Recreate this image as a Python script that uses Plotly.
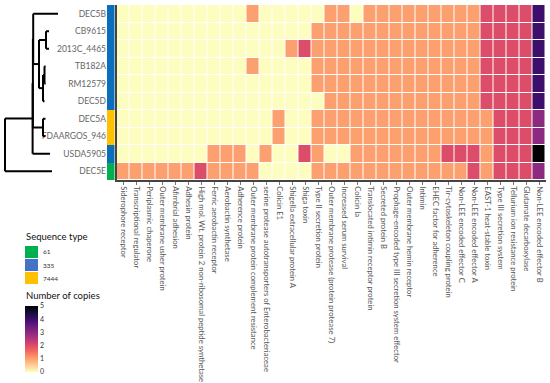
import plotly.graph_objects as go

# ---------------- data ----------------
strains = ["DEC5B", "CB9615", "2013C_4465", "TB182A", "RM12579", "DEC5D",
           "DEC5A", "FDAARGOS_946", "USDA5905", "DEC5E"]

genes = [
    "Siderophore receptor", "Transcriptional regulator", "Periplasmic chaperone",
    "Outer membrane usher protein", "Afimbrial adhesion", "Adhesin protein",
    "High mol. Wt. protein 2 non-ribosomal peptide synthetase",
    "Ferric aerobactin receptor", "Aerobactin synthetase", "Adherence protein",
    "Outer membrane protein complement resistance",
    "serine protease autotransporters of Enterobacteriaceae", "Colicin E1",
    "Shigella extracellular protein A", "Shiga toxin", "Type II secretion protein",
    "Outer membrane protease (protein protease 7)", "Increased serum survival",
    "Colicin Ia", "Translocated intimin receptor protein", "Secreted protein B",
    "Prophage-encoded type III secretion system effector",
    "Outer membrane hemin receptor", "Intimin", "EHEC factor for adherence",
    "Tir-cytoskeleton coupling protein", "Non-LEE encoded effector C",
    "Non-LEE encoded effector A", "EAST-1 heat-stable toxin",
    "Type III secretion system", "Tellurium ion resistance protein",
    "Glutamate decarboxylase", "Non-LEE encoded effector B",
]

copies = [
    [0,0,0,0,0,0,0,0,0,0,1,0,0,0,0,0,1,1,0,1,1,1,1,1,1,1,1,1,2,2,2,2,4],
    [0,0,0,0,0,0,0,0,0,0,0,0,0,0,0,1,1,1,1,1,1,1,1,1,1,1,1,1,2,2,2,2,4],
    [0,0,0,0,0,0,0,0,0,0,0,0,0,1,2,1,1,1,1,1,1,1,1,1,1,1,1,1,2,2,2,2,4],
    [0,0,0,0,0,0,0,0,0,0,1,0,0,0,0,1,1,1,1,1,1,1,1,1,1,1,1,1,2,2,2,2,4],
    [0,0,0,0,0,0,0,0,0,0,0,0,0,0,0,1,1,1,1,1,1,1,1,1,1,1,1,1,2,2,2,2,4],
    [0,0,0,0,0,0,0,0,0,0,0,0,0,0,0,0,1,1,1,1,1,1,1,1,1,1,1,1,2,2,2,2,4],
    [0,0,0,0,0,0,0,0,0,0,0,0,1,0,0,1,1,1,1,1,1,1,1,1,1,1,1,1,1,2,2,2,3],
    [0,0,0,0,0,0,0,0,0,0,0,0,1,0,0,1,1,1,1,1,1,1,1,1,1,1,1,1,1,2,2,2,3],
    [0,0,0,0,0,0,0,1,1,1,0,1,0,0,2,1,0,0,1,1,1,1,1,1,1,2,2,2,1,2,2,2,5],
    [1,1,1,1,1,1,2,1,1,1,1,0,0,0,0,1,1,1,1,1,1,1,1,1,1,1,1,2,1,2,2,2,3],
]

strain_seq_type = ["335", "335", "335", "335", "335", "335", "7444", "7444", "335", "61"]
seq_types = ["61", "335", "7444"]
seq_bar_colors = ["#00b050", "#0a6ebd", "#ffc000"]
seq_legend_colors = ["#00b050", "#4472c4", "#ffc000"]

copy_ticks = [0, 1, 2, 3, 4, 5]

# dendrogram: (name, depth, children)
tree = ("root", 0.0, [
    ("n3", 27.6, [
        ("n2", 27.9, [
            ("n1", 28.2, [
                ("DEC5B", 53.0, []),
                ("B", 34.0, [
                    ("D", 41.0, [("CB9615", 44.0, []), ("2013C_4465", 44.0, [])]),
                    ("E", 38.0, [
                        ("I", 39.5, [("TB182A", 40.5, []), ("RM12579", 40.5, [])]),
                        ("DEC5D", 39.5, []),
                    ]),
                ]),
            ]),
            ("C", 38.0, [("DEC5A", 40.5, []), ("FDAARGOS_946", 40.5, [])]),
        ]),
        ("USDA5905", 45.0, []),
    ]),
    ("DEC5E", 47.0, []),
])

# ---------------- build ----------------
W, H = 550, 383
FONT = "Lato"


def px_x(p):
    return p / W


def px_y(p):
    return 1 - p / H


dx, dy = [], []


def walk(node):
    name, depth, children = node
    if not children:
        return strains.index(name)
    ys = []
    for ch in children:
        cy = walk(ch)
        ys.append(cy)
        dx.extend([depth, ch[1], None])
        dy.extend([cy, cy, None])
    dx.extend([depth, depth, None])
    dy.extend([min(ys), max(ys), None])
    return sum(ys) / len(ys)


walk(tree)

rows = list(range(len(strains)))
cols = list(range(len(genes)))
seq_idx = [[seq_types.index(s)] for s in strain_seq_type]

fig = go.Figure()

fig.add_trace(go.Heatmap(
    z=copies, x=cols, y=rows, xaxis="x", yaxis="y",
    colorscale="Magma_r", zmin=0, zmax=5, xgap=1, ygap=1,
    colorbar=dict(
        x=px_x(25), xanchor="left", xref="paper",
        y=px_y(306), yanchor="top", yref="paper",
        len=66, lenmode="pixels", thickness=13, ypad=0, xpad=0,
        tickvals=copy_ticks, ticks="", outlinewidth=0,
        tickfont=dict(size=7, color="#333", family=FONT),
    ),
    hovertemplate="%{y}<br>%{x}: %{z}<extra></extra>",
))

fig.add_trace(go.Heatmap(
    z=seq_idx, x=[0], y=rows, xaxis="x2", yaxis="y2",
    colorscale=[[0, seq_bar_colors[0]], [0.5, seq_bar_colors[1]], [1, seq_bar_colors[2]]],
    zmin=0, zmax=2, showscale=False, hoverinfo="skip",
))

fig.add_trace(go.Scatter(
    x=dx, y=dy, xaxis="x3", yaxis="y3", mode="lines",
    line=dict(color="black", width=2), hoverinfo="skip", showlegend=False,
))

ydom = [px_y(180), px_y(5)]
yrange = [len(strains) - 0.5, -0.5]

fig.update_layout(
    width=W, height=H, margin=dict(l=0, r=0, t=0, b=0),
    paper_bgcolor="white", plot_bgcolor="white",
    font=dict(family=FONT, color="#555"),
    showlegend=False,
    xaxis=dict(domain=[px_x(116.5), px_x(545.5)], range=[-0.5, len(genes) - 0.5],
               tickvals=cols, ticktext=genes, tickangle=90,
               tickfont=dict(size=7.7, color="#555", family=FONT),
               ticks="outside", ticklen=3, tickcolor="#777",
               showline=True, linecolor="#444", linewidth=1.5,
               showgrid=False, zeroline=False, automargin=False),
    yaxis=dict(domain=ydom, range=yrange, showticklabels=False,
               showline=True, linecolor="#444", linewidth=1.5,
               showgrid=False, zeroline=False),
    xaxis2=dict(domain=[px_x(107), px_x(114.5)], range=[-0.5, 0.5], visible=False),
    yaxis2=dict(domain=ydom, range=yrange, anchor="x2",
                tickvals=rows, ticktext=strains, ticks="",
                tickfont=dict(size=8.5, color="#666", family=FONT),
                showgrid=False, zeroline=False, showline=False, automargin=False),
    xaxis3=dict(domain=[0, px_x(100)], range=[-5, 95], visible=False),
    yaxis3=dict(domain=ydom, range=yrange, anchor="x3", visible=False),
)

# sequence type legend
shapes, annotations = [], []
annotations.append(dict(text="Sequence type", x=px_x(24), y=px_y(236), xref="paper", yref="paper",
                        xanchor="left", yanchor="middle", showarrow=False,
                        font=dict(size=9.5, color="#111", family=FONT)))
for i, (lab, col) in enumerate(zip(seq_types, seq_legend_colors)):
    top = 246 + i * 13
    shapes.append(dict(type="rect", xref="paper", yref="paper",
                       x0=px_x(25), x1=px_x(38), y0=px_y(top), y1=px_y(top + 12),
                       fillcolor=col, line=dict(width=0)))
    annotations.append(dict(text=lab, x=px_x(41), y=px_y(top + 6), xref="paper", yref="paper",
                            xanchor="left", yanchor="middle", showarrow=False,
                            font=dict(size=6.5, color="#333", family=FONT)))
annotations.append(dict(text="Number of copies", x=px_x(24), y=px_y(295), xref="paper", yref="paper",
                        xanchor="left", yanchor="middle", showarrow=False,
                        font=dict(size=9.5, color="#111", family=FONT)))
fig.update_layout(shapes=shapes, annotations=annotations)

fig.write_html("out.html", config={"displayModeBar": False},
               post_script="document.body.style.margin='0px';")
